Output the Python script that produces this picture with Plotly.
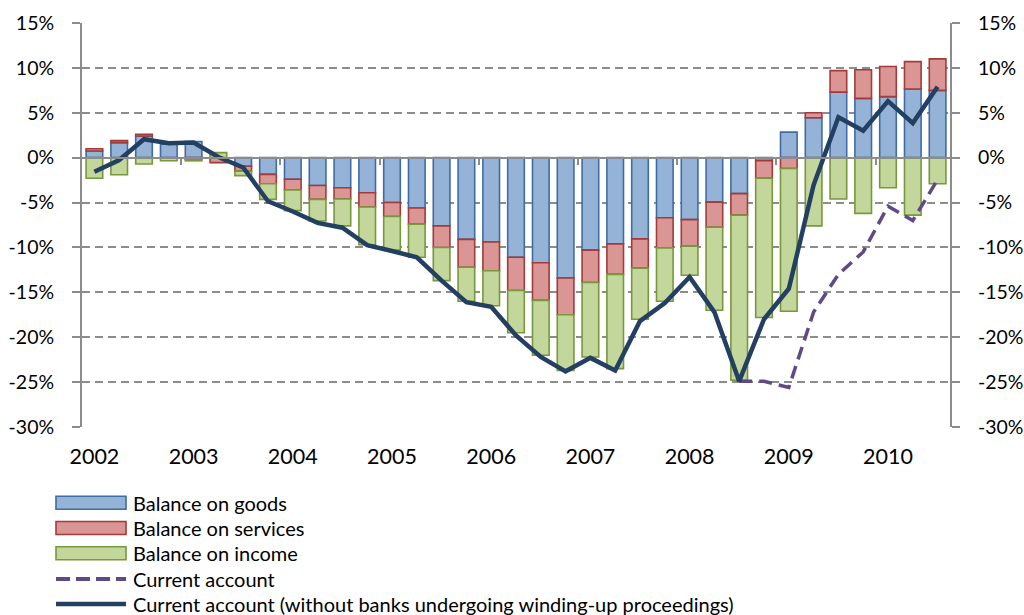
import plotly.graph_objects as go

# ---------------- data (percent of GDP, quarterly 2002Q1 - 2010Q3) ----------------
quarters = [f"{y}Q{q}" for y in range(2002, 2011) for q in range(1, 5)][:35]

goods = [0.75, 1.68, 2.42, 1.5, 1.8, -0.05, -0.95, -1.86, -2.4, -3.1,
         -3.35, -3.9, -5.0, -5.6, -7.6, -9.1, -9.4, -11.1, -11.7, -13.4,
         -10.3, -9.6, -9.05, -6.7, -6.9, -4.95, -4.0, -0.33, 2.85, 4.45,
         7.3, 6.6, 6.8, 7.65, 7.5]
services = [0.25, 0.22, 0.18, -0.05, -0.2, -0.5, -0.55, -1.04, -1.2, -1.55,
            -1.25, -1.6, -1.55, -1.8, -2.4, -3.1, -3.2, -3.7, -4.2, -4.1,
            -3.6, -3.4, -3.25, -3.35, -2.97, -2.8, -2.4, -1.97, -1.2, 0.55,
            2.4, 3.2, 3.35, 3.05, 3.5]
income = [-2.3, -1.9, -0.7, -0.3, -0.15, 0.56, -0.5, -1.75, -2.3, -2.4,
          -3.0, -4.2, -3.75, -3.7, -3.7, -3.8, -3.9, -4.7, -6.1, -6.2,
          -8.3, -10.5, -5.7, -5.95, -3.23, -9.25, -18.4, -15.5, -15.9, -7.6,
          -4.6, -6.2, -3.35, -6.4, -2.9]
current_account = [None] * 26 + [-24.9, -24.9, -25.6, -17.2, -13.0, -10.5, -5.4, -7.0, -2.45]
ca_without_banks = [-1.56, -0.26, 2.05, 1.6, 1.68, 0.08, -1.1, -4.85, -6.0, -7.26,
                    -7.8, -9.75, -10.4, -11.1, -13.7, -16.1, -16.6, -19.8, -22.2, -23.8,
                    -22.3, -23.7, -18.2, -16.2, -13.3, -17.2, -24.9, -18.0, -14.6, -3.05,
                    4.5, 3.0, 6.3, 3.85, 7.9]

year_labels = [str(y) for y in range(2002, 2011)]
y_tick_values = [-30, -25, -20, -15, -10, -5, 0, 5, 10, 15]
y_tick_labels = ["-30%", "-25%", "-20%", "-15%", "-10%", "-5%", "0%", "5%", "10%", "15%"]

series_names = ["Balance on goods", "Balance on services", "Balance on income",
                "Current account",
                "Current account (without banks undergoing winding-up proceedings)"]

# ---------------- styles ----------------
FONT = "Lato"
C_GOODS, C_GOODS_L = "#95B3D7", "#3E6CA6"
C_SERV, C_SERV_L = "#D99694", "#A23B39"
C_INC, C_INC_L = "#C3D69B", "#78983C"
C_CA = "#5F4A87"
C_CAWB = "#233F62"
GRID = "#8C8C8C"
AXIS = "#8C8C8C"

idx = list(range(len(quarters)))
year_tick_pos = idx[::4]
boundary_pos = [i + 3.5 for i in idx[::4] if i + 3.5 < len(idx) - 1]

fig = go.Figure()
for vals, name, fc, lc in [(goods, series_names[0], C_GOODS, C_GOODS_L),
                           (services, series_names[1], C_SERV, C_SERV_L),
                           (income, series_names[2], C_INC, C_INC_L)]:
    fig.add_trace(go.Bar(x=idx, y=vals, name=name, showlegend=False,
                         marker=dict(color=fc, line=dict(color=lc, width=1.6))))

fig.add_trace(go.Scatter(x=idx, y=current_account, name=series_names[3], mode="lines",
                         showlegend=False,
                         line=dict(color=C_CA, width=3.5, dash="13px,7px")))
fig.add_trace(go.Scatter(x=idx, y=ca_without_banks, name=series_names[4], mode="lines",
                         showlegend=False,
                         line=dict(color=C_CAWB, width=4.5)))
# helper traces so the overlay axes render
fig.add_trace(go.Scatter(x=[], y=[], xaxis="x2", yaxis="y", showlegend=False, hoverinfo="skip"))
fig.add_trace(go.Scatter(x=[], y=[], xaxis="x", yaxis="y2", showlegend=False, hoverinfo="skip"))

# body margin is removed (see post_script), so the figure fills the window
W, H = 1024, 615
L, R, T, B = 82, 74, 23, 188
PW, PH = W - L - R, H - T - B

xr = [-0.5, len(idx) - 0.5]
yr = [-30, 15]
YTICK_FONT = dict(size=19.5)

fig.update_layout(
    width=W, height=H,
    margin=dict(l=L, r=R, t=T, b=B, autoexpand=False),
    paper_bgcolor="white", plot_bgcolor="white",
    barmode="relative", bargap=0.33,
    font=dict(family=FONT, size=20, color="black"),
    xaxis=dict(range=xr, tickmode="array", tickvals=year_tick_pos, ticktext=year_labels,
               showgrid=False, zeroline=False, showline=False, ticks="", automargin=False,
               ticklabelstandoff=14, tickfont=dict(size=21.5)),
    xaxis2=dict(overlaying="x", range=xr, anchor="free", position=(0 - yr[0]) / (yr[1] - yr[0]),
                showline=True, linecolor=AXIS, linewidth=2, ticks="outside", ticklen=6,
                tickwidth=1.5, tickcolor=AXIS, tickmode="array", tickvals=boundary_pos,
                showticklabels=False, showgrid=False, zeroline=False, automargin=False),
    yaxis=dict(range=yr, tickmode="array", tickvals=y_tick_values, ticktext=y_tick_labels,
               showgrid=True, gridcolor=GRID, gridwidth=1.5, griddash="8px,5px",
               zeroline=False, showline=True, linecolor=AXIS, linewidth=2,
               ticks="outside", ticklen=8, tickwidth=1.5, tickcolor=AXIS, automargin=False,
               ticklabelstandoff=14, tickfont=YTICK_FONT),
    yaxis2=dict(overlaying="y", side="right", range=yr, tickmode="array",
                tickvals=y_tick_values, ticktext=y_tick_labels, showgrid=False,
                zeroline=False, showline=True, linecolor=AXIS, linewidth=2,
                ticks="outside", ticklen=8, tickwidth=1.5, tickcolor=AXIS, automargin=False,
                ticklabelstandoff=14, tickfont=YTICK_FONT),
)

# ---------------- custom legend (below the plot), positions in page pixels ----------------
def px_x(p):
    return (p - L) / PW

def px_y(p):
    return (H - B - p) / PH

rows = [502.7, 528, 553.3, 579, 604]
sym_x0, sym_x1, text_x = 56, 126, 131
legend_styles = [("rect", C_GOODS, C_GOODS_L), ("rect", C_SERV, C_SERV_L),
                 ("rect", C_INC, C_INC_L), ("dash", C_CA, None), ("solid", C_CAWB, None)]
for yc, name, (kind, c1, c2) in zip(rows, series_names, legend_styles):
    if kind == "rect":
        fig.add_shape(type="rect", xref="paper", yref="paper",
                      x0=px_x(sym_x0), x1=px_x(sym_x1), y0=px_y(yc - 6.5), y1=px_y(yc + 6.5),
                      fillcolor=c1, line=dict(color=c2, width=1.6))
    elif kind == "dash":
        fig.add_shape(type="line", xref="paper", yref="paper",
                      x0=px_x(sym_x0), x1=px_x(sym_x1), y0=px_y(yc), y1=px_y(yc),
                      line=dict(color=c1, width=4, dash="14px,6px"))
    else:
        fig.add_shape(type="line", xref="paper", yref="paper",
                      x0=px_x(sym_x0), x1=px_x(sym_x1), y0=px_y(yc), y1=px_y(yc),
                      line=dict(color=c1, width=4.5))
    fig.add_annotation(text=name, xref="paper", yref="paper", x=px_x(text_x), y=px_y(yc),
                       xanchor="left", yanchor="middle", showarrow=False,
                       font=dict(family=FONT, size=20, color="black"))

fig.write_html(
    "out.html",
    config={"displayModeBar": False},
    post_script=("document.body.style.margin='0';"
                 "document.body.style.padding='0';"
                 "document.documentElement.style.overflow='hidden';"
                 "document.body.style.overflow='hidden';"),
)
